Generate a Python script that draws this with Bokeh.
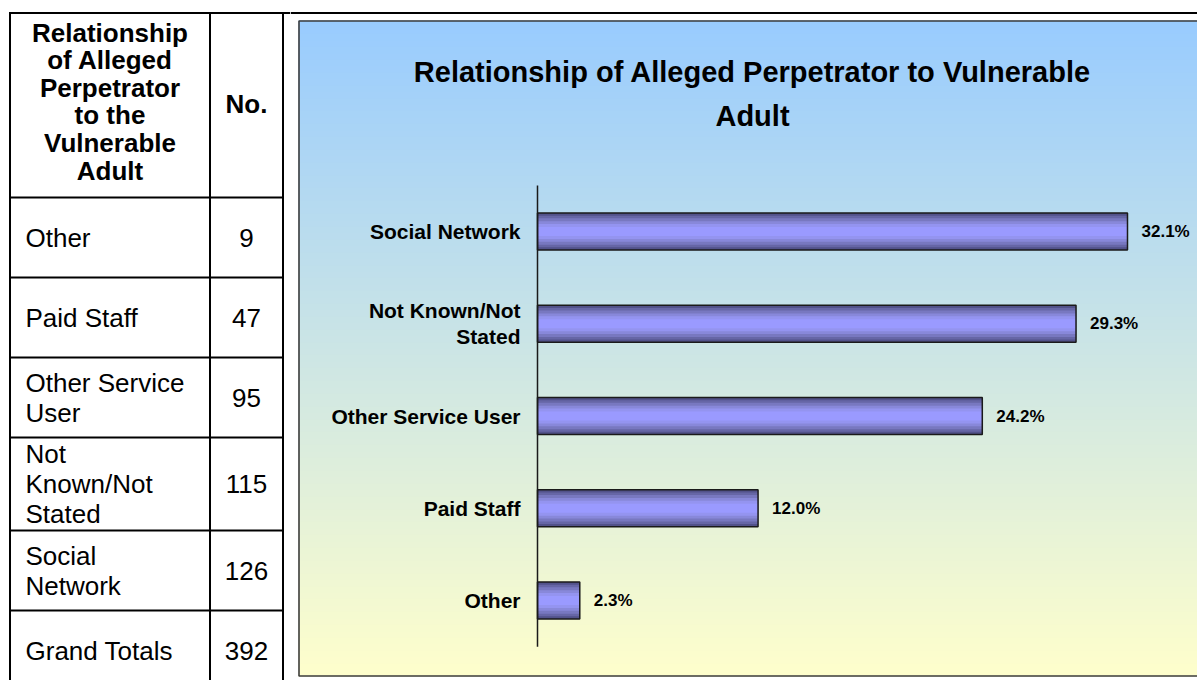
import numpy as np
from bokeh.plotting import figure
from bokeh.layouts import row
from bokeh.models import Range1d, LinearAxis, FixedTicker, Label
from bokeh.core.properties import value
from bokeh.embed import file_html
from bokeh.resources import INLINE

# ---------------- data ----------------
categories = ["Other", "Paid Staff", "Other Service User", "Not Known/Not Stated", "Social Network"]
counts = [9, 47, 95, 115, 126]
grand_total = 392
percents = [2.3, 12.0, 24.2, 29.3, 32.1]
table_labels = ["Other", "Paid Staff", "Other Service\nUser", "Not\nKnown/Not\nStated", "Social\nNetwork"]
axis_labels = ["Other", "Paid Staff", "Other Service User", "Not Known/Not\nStated", "Social Network"]
table_header = "Relationship\nof Alleged\nPerpetrator\nto the\nVulnerable\nAdult"
count_header = "No."
total_label = "Grand Totals"
chart_title = "Relationship of Alleged Perpetrator to Vulnerable\nAdult"

# ---------------- layout (page pixel coordinates) ----------------
FONT = "Liberation Sans"
PAGE_H = 680
TOP, BOTTOM = 0, PAGE_H
TAB_X0, TAB_X1 = 0, 290
CH_X0, CH_X1 = 290, 1197

# ---------------- table ----------------
tf = figure(width=TAB_X1 - TAB_X0, height=PAGE_H,
            x_range=Range1d(TAB_X0, TAB_X1), y_range=Range1d(BOTTOM, TOP),
            output_backend="svg", toolbar_location=None, min_border=0,
            x_axis_type=None, y_axis_type=None, outline_line_color=None,
            background_fill_color="white", border_fill_color="white")

c_left, c_div, c_right = 9.5, 209.5, 282.5
t_top, h_bottom = 12.5, 197
all_labels = table_labels + [total_label]
all_counts = [str(c) for c in counts] + [str(grand_total)]
heights = [93 if lbl.count("\n") >= 2 else 80 for lbl in all_labels]
bounds = [h_bottom]
for h in heights:
    bounds.append(bounds[-1] + h)
centers = [(bounds[i] + bounds[i + 1]) / 2 for i in range(len(heights))]

tf.segment(x0=[c_left] * len(bounds) + [c_left - 1], y0=bounds + [t_top],
           x1=[c_right] * len(bounds) + [TAB_X1], y1=bounds + [t_top],
           line_color="black", line_width=2)
tf.segment(x0=[c_left, c_div, c_right], y0=[t_top] * 3,
           x1=[c_left, c_div, c_right], y1=[bounds[-1]] * 3,
           line_color="black", line_width=2)

tf.text(x=[(c_left + c_div) / 2], y=[101], text=[table_header],
        text_align="center", text_baseline="middle", text_font=value(FONT),
        text_font_style="bold", text_font_size="26px", text_line_height=0.92,
        text_color="black")
tf.text(x=[(c_div + c_right) / 2], y=[103], text=[count_header],
        text_align="center", text_baseline="middle", text_font=value(FONT),
        text_font_style="bold", text_font_size="26px", text_color="black")
tf.text(x=[25] * len(all_labels), y=centers, text=all_labels,
        text_align="left", text_baseline="middle", text_font=value(FONT),
        text_font_size="26px", text_line_height=1.0, text_color="black")
tf.text(x=[(c_div + c_right) / 2] * len(all_counts), y=centers, text=all_counts,
        text_align="center", text_baseline="middle", text_font=value(FONT),
        text_font_size="26px", text_color="black")

# ---------------- chart ----------------
PX_PER_PCT = 18.38
AXIS_PX = 537
ROW0_PY = 600
ROW_STEP = 92.25


def px2x(px):
    return (px - AXIS_PX) / PX_PER_PCT


def py2y(py):
    return (ROW0_PY - py) / ROW_STEP


cf = figure(width=CH_X1 - CH_X0, height=PAGE_H,
            x_range=Range1d(px2x(CH_X0), px2x(CH_X1)),
            y_range=Range1d(py2y(BOTTOM), py2y(TOP)),
            output_backend="svg", toolbar_location=None, min_border=0,
            x_axis_type=None, y_axis_type=None, outline_line_color=None,
            background_fill_color="white", border_fill_color="white")

# gradient panel background
PANEL_L, PANEL_T, PANEL_B = 298, 20, 676
n = PANEL_B - PANEL_T
c_top = np.array([153, 204, 255], dtype=float)
c_bot = np.array([255, 255, 204], dtype=float)
tt = np.linspace(0, 1, n)[:, None]
cols = c_bot * (1 - tt) + c_top * tt
img = np.zeros((n, 1), dtype=np.uint32)
view = img.view(dtype=np.uint8).reshape((n, 1, 4))
view[:, 0, 0:3] = cols.astype(np.uint8)
view[:, 0, 3] = 255
cf.image_rgba(image=[img], x=px2x(PANEL_L), y=py2y(PANEL_B),
              dw=px2x(1215) - px2x(PANEL_L), dh=py2y(PANEL_T) - py2y(PANEL_B))
cf.quad(left=px2x(PANEL_L + 0.5), right=px2x(1215), top=py2y(PANEL_T + 0.5),
        bottom=py2y(PANEL_B - 0.5), fill_color=None, line_color="#3c3c3c", line_width=1.6)
cf.segment(x0=px2x(CH_X0), y0=py2y(12.5), x1=px2x(CH_X1), y1=py2y(12.5),
           line_color="black", line_width=2)

# bars with shaded 3D look
idx = list(range(len(categories)))
BAR_H = 0.40
shades = [(1.0, "#52528a"), (0.86, "#6666a6"), (0.72, "#7878c0"),
          (0.56, "#8888da"), (0.40, "#9494f0"), (0.24, "#9a9aff")]
for frac, col in shades:
    cf.hbar(y=idx, left=0, right=percents, height=BAR_H * frac,
            fill_color=col, line_color=None)
cf.hbar(y=idx, left=0, right=percents, height=BAR_H,
        fill_color=None, line_color="#1a1a1a", line_width=1.5)

# category axis line
cf.segment(x0=0, y0=-0.5, x1=0, y1=len(categories) - 0.5,
           line_color="#1a1a1a", line_width=1.5)

yaxis = LinearAxis(fixed_location=0, ticker=FixedTicker(ticks=idx),
                   major_label_overrides={i: lbl for i, lbl in enumerate(axis_labels)},
                   axis_line_color=None, major_tick_line_color=None,
                   minor_tick_line_color=None, major_tick_out=0, major_tick_in=0,
                   major_label_standoff=17, major_label_text_font=FONT,
                   major_label_text_font_style="bold",
                   major_label_text_font_size="21px",
                   major_label_text_line_height=1.12,
                   major_label_text_color="black")
cf.add_layout(yaxis, "left")

cf.text(x=percents, y=idx, text=[f"{v:.1f}%" for v in percents], x_offset=14,
        text_align="left", text_baseline="middle", text_font=value(FONT),
        text_font_style="bold", text_font_size="17px", text_color="black")

cf.add_layout(Label(x=752 - CH_X0, y=PAGE_H - 55, x_units="screen", y_units="screen",
                    text=chart_title, text_align="center", text_baseline="top",
                    text_font=FONT, text_font_style="bold", text_font_size="29px",
                    text_line_height=1.4, text_color="black"))

p = row(tf, cf)
open("out.html", "w").write(file_html(p, INLINE))
